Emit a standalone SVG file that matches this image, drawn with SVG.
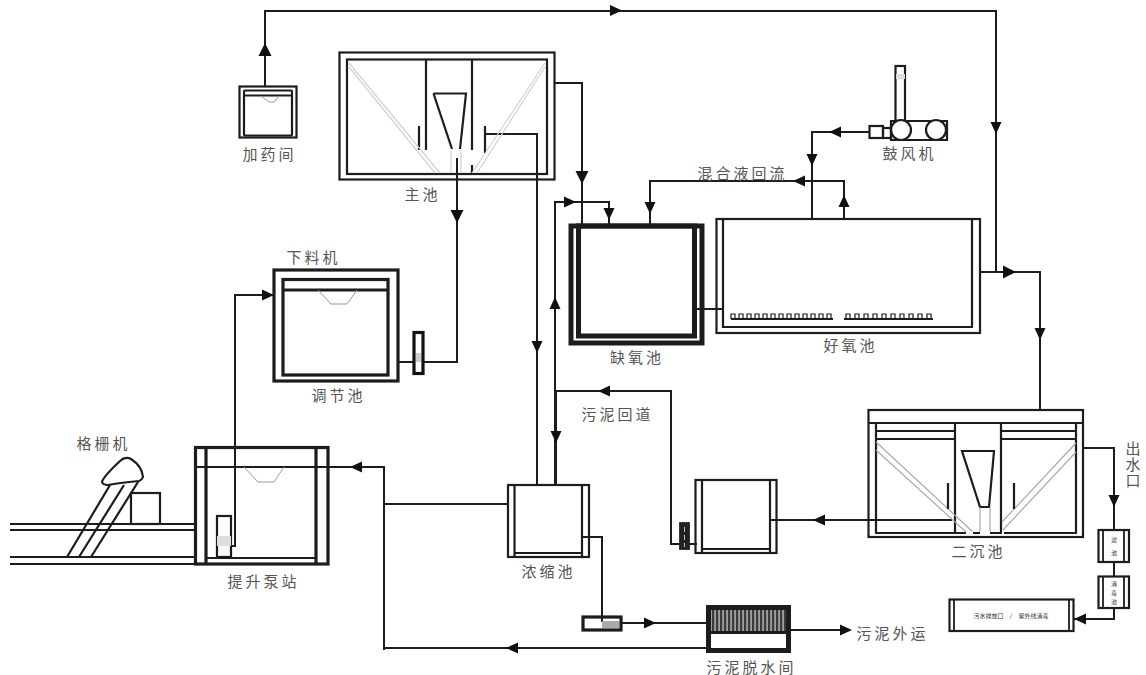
<svg xmlns="http://www.w3.org/2000/svg" width="1146" height="675" viewBox="0 0 1146 675">
<style>
.t{font-family:"Noto Sans CJK SC","Noto Sans",sans-serif;font-size:15px;fill:#555;text-anchor:middle;letter-spacing:3px;dominant-baseline:central}
.s{font-size:6px;letter-spacing:0;fill:#333}
path,rect,circle{fill:none;stroke:#1c1c1c;stroke-width:1.8}
.w2{stroke-width:2.2}.w3{stroke-width:3.2}.w5{stroke-width:5}
.g{stroke:#d2d2d2;stroke-width:1.2}
.lg{stroke:#999;stroke-width:1}
#connectors path{stroke-width:2}
#connectors .a{stroke:none;stroke-width:0;marker-end:url(#ah)}
#connectors .b{stroke:none;stroke-width:0;marker-end:url(#ahb)}
</style>
<defs>
<marker id="ah" markerUnits="userSpaceOnUse" markerWidth="12" markerHeight="12" viewBox="0 0 12 12" refX="6" refY="6" orient="auto"><path d="M0 0.500L12 6L0 11.500Z" style="fill:#111;stroke:none"/></marker>
<marker id="ahb" markerUnits="userSpaceOnUse" markerWidth="14" markerHeight="14" viewBox="0 0 14 14" refX="7" refY="7" orient="auto"><path d="M0 0.500L13 7L0 13.500Z" style="fill:#111;stroke:none"/></marker>
<pattern id="hatch" patternUnits="userSpaceOnUse" width="4" height="10"><rect width="4" height="10" style="fill:#777;stroke:none"/><path d="M1 0V10" style="stroke:#222;stroke-width:1.4"/><path d="M3.200 0V10" style="stroke:#ccc;stroke-width:.7"/></pattern>
</defs>
<rect width="1146" height="675" style="fill:#fff;stroke:none"/>

<g id="connectors">
<path d="M265 86V11H996V272"/>
<path d="M981 272H1040V410"/>
<path d="M555 83H582V224"/>
<path d="M485 134H537V485"/>
<path d="M457 158V362H398"/>
<path d="M555 485V202H609V224"/>
<path d="M556 485V391H671V544H697"/>
<path d="M231 546H235V295H273"/>
<path d="M195 467H384V650"/>
<path d="M384 504H508"/>
<path d="M384 648H706"/>
<path d="M582 537H602V622"/>
<path d="M622 623H706"/>
<path d="M791 630H845"/>
<path d="M770 520H952"/>
<path d="M1083 448H1114V530"/>
<path d="M1114 562V576"/>
<path d="M1114 608V619H1074"/>
<path d="M869 132H812V219"/>
<path d="M844 219V181H650V224"/>
<path d="M697 309H723"/>
<path class="b" d="M265 55V49"/>
<path class="a" d="M610 10.500H616"/>
<path class="a" d="M996 122V128"/>
<path class="b" d="M1004 272H1010"/>
<path class="a" d="M1040 328V334"/>
<path class="b" d="M582 172V178"/>
<path class="b" d="M457 211V217"/>
<path class="a" d="M564 202H570"/>
<path class="a" d="M609 208V214"/>
<path class="a" d="M555 309V303"/>
<path class="a" d="M537 341V347"/>
<path class="a" d="M556 431V437"/>
<path class="a" d="M610 391H604"/>
<path class="a" d="M650 202V208"/>
<path class="a" d="M805 181H799"/>
<path class="a" d="M844 207V201"/>
<path class="a" d="M812 154V160"/>
<path class="a" d="M841 132H835"/>
<path class="a" d="M262 295H268"/>
<path class="a" d="M362 467H356"/>
<path class="a" d="M518 648H512"/>
<path class="a" d="M644 623H650"/>
<path class="a" d="M825 520H819"/>
<path class="a" d="M840 630H846"/>
<path class="a" d="M1114 495V501"/>
<path class="a" d="M1086 619H1080"/>
</g>

<g id="dosing">
<rect x="239.500" y="86.500" width="57" height="51" class="w2"/>
<rect x="244" y="90.500" width="48" height="45" class="w2" rx="1"/>
<path d="M244 95.500H292" class="w2"/>
<path d="M261 96L269 102H274L279 96" class="lg"/>
<text class="t" x="269.500" y="153.500">加药间</text>
</g>

<g id="main-tank">
<rect x="339.500" y="52.500" width="215" height="127" class="w2"/>
<rect x="347" y="59.500" width="200" height="114.500" class="w2"/>
<path d="M426 60V150M472 60V150M472 165V174" class="w2"/>
<path d="M433.500 93.500H466L460 149M433.500 93.500L452 149" class="w2"/>
<path d="M419 126V150M485 126V153" class="w2"/>
<path d="M349 63L440 173M349 67L435 173M545 63L472 173M545 67L477 173M451 150V172M461 150V172" class="g"/>
<text class="t" x="422.500" y="193">主池</text>
</g>

<g id="feeder-tank">
<rect x="274" y="270" width="124" height="111" class="w3"/>
<rect x="283" y="279.500" width="105" height="95.500" class="w3"/>
<path d="M283 290H388" class="w3"/>
<path d="M318 290L331 304H347L357 290" class="lg"/>
<rect x="414" y="332.500" width="9" height="41" class="w3" style="fill:#fff;stroke:#111"/>
<path d="M416 353H421V362H416Z" style="fill:#ccc;stroke:none"/>
<text class="t" x="313.500" y="256">下料机</text>
<text class="t" x="338.500" y="394">调节池</text>
</g>

<g id="screen">
<path d="M10 524H195M10 530H195M10 557H195M10 564H195" class="w2"/>
<rect x="131" y="493" width="29" height="31" class="w2"/>
<path d="M67 557L110 485M79 557L124 485M91 557L138 482" class="w2"/>
<path d="M102 482Q103 477 120 461Q125 456 131 459Q142 466 143 477Q142 480 139 481Q118 483 108 485Q103 485 102 482Z" class="w2" style="fill:#fff"/>
<text class="t" x="103.500" y="442">格栅机</text>
</g>

<g id="lift-station">
<rect x="195.500" y="447.500" width="132.500" height="116.500" class="w3"/>
<path d="M206 447V564M316 447V564" class="w3"/>
<path d="M206 558H316" class="w2"/>
<path d="M244 467L258 482H274L284 467" class="lg"/>
<rect x="217" y="516" width="14" height="41" class="w2"/>
<path d="M217 536H231V546H217Z" style="fill:#ddd;stroke:none"/>
<text class="t" x="263.500" y="580">提升泵站</text>
</g>

<g id="anoxic-tank">
<rect x="571" y="226" width="131" height="117" class="w5"/>
<rect x="578.500" y="226" width="116" height="110" class="w5"/>
<text class="t" x="637" y="356">缺氧池</text>
</g>

<g id="aerobic-tank">
<rect x="716.500" y="219" width="263.500" height="114" class="w2"/>
<path d="M723 219V327H972V219" class="w2"/>
<path d="M731 319H833M844 319H933" class="w2"/>
<path d="M731 319V314H735V319M739 319V314H743V319M747 319V314H751V319M755 319V314H759V319M763 319V314H767V319M771 319V314H775V319M779 319V314H783V319M787 319V314H791V319M795 319V314H799V319M803 319V314H807V319M811 319V314H815V319M819 319V314H823V319M827 319V314H831V319M846 319V314H850V319M855 319V314H859V319M864 319V314H868V319M873 319V314H877V319M882 319V314H886V319M891 319V314H895V319M900 319V314H904V319M909 319V314H913V319M918 319V314H922V319M927 319V314H931V319" style="stroke-width:1.200"/>
<text class="t" x="850.500" y="344">好氧池</text>
</g>

<g id="blower">
<rect x="895.500" y="66" width="9.500" height="55" class="w2"/>
<path d="M896 74H905V79H896Z" style="fill:#ddd;stroke:none"/>
<path d="M891 140V121H947V140Z" class="w2"/>
<circle cx="901" cy="130" r="10" class="w2" style="fill:#fff"/>
<circle cx="936" cy="130" r="10" class="w2" style="fill:#fff"/>
<rect x="869.500" y="126" width="13.500" height="12" class="w2"/>
<rect x="883" y="128" width="8" height="10" class="w2"/>
<text class="t" x="909.500" y="152">鼓风机</text>
</g>

<g id="recycle-label"><text class="t" x="742.500" y="172">混合液回流</text></g>
<g id="sludge-return-label"><text class="t" x="617.500" y="413">污泥回道</text></g>

<g id="thickener">
<rect x="508" y="485" width="81" height="72" class="w2"/>
<path d="M514.500 485V557M582 485V557M514 553H582" class="w2"/>
<text class="t" x="548.500" y="570">浓缩池</text>
</g>

<g id="sludge-pump">
<rect x="583" y="617" width="38" height="13" class="w3"/>
<path d="M602 621H619V628H602Z" style="fill:#aaa;stroke:none"/>
</g>

<g id="sludge-tank">
<rect x="695.500" y="480" width="81" height="73" class="w2"/>
<path d="M702 480V553M770 480V553M702 549H770" class="w2"/>
<rect x="680" y="523" width="9" height="26" style="fill:#222;stroke:#222"/>
<path d="M684.500 527V547" style="stroke:#bbb;stroke-width:1;stroke-dasharray:5 3"/>
</g>

<g id="dewatering">
<rect x="708.500" y="607.500" width="80" height="43" class="w5"/>
<rect x="711" y="610" width="75" height="21" style="fill:url(#hatch);stroke:none"/>
<path d="M708 632.500H789" class="w3"/>
<text class="t" x="751.500" y="666">污泥脱水间</text>
<text class="t" x="892.500" y="632">污泥外运</text>
</g>

<g id="secondary-tank">
<rect x="868.500" y="410" width="214.500" height="127" class="w2"/>
<path d="M868 423H1083" class="w2"/>
<path d="M876 423V533H1076V423" class="w2"/>
<path d="M876 431H955M876 439H955M1001 431H1076M1001 439H1076M955 423V533M1001 423V533" class="w2"/>
<path d="M876 442L973 532M876 450L966 532M1076 443L1002 522M1076 452L1003 530" class="g" style="stroke:#aaa"/>
<path d="M962 451H994L989 507H980Z" class="w2"/>
<path d="M980 507V532M990 507V532" class="lg"/>
<path d="M966 533H973M980 533H990M1002 533H1004" style="stroke:#fff;stroke-width:3"/>
<path d="M948 483V509M1014 483V509" class="w2"/>
<text class="t" x="978.500" y="550">二沉池</text>
<text class="t" x="1133" y="465" style="writing-mode:vertical-rl;letter-spacing:1px;font-size:15px">出水口</text>
</g>

<g id="filter">
<rect x="1098.500" y="530" width="30.500" height="32" class="w2"/>
<path d="M1103 530V562M1124 530V562"/>
<text class="t s" x="1114" y="539">滤</text>
<text class="t s" x="1114" y="552">池</text>
</g>

<g id="disinfection">
<rect x="1098.500" y="576.500" width="30.500" height="31.500" class="w2"/>
<path d="M1103 576V608M1124 576V608"/>
<text class="t s" x="1114" y="583">消</text>
<text class="t s" x="1114" y="592">毒</text>
<text class="t s" x="1114" y="601">池</text>
</g>

<g id="outfall">
<rect x="949.500" y="599.500" width="124" height="31.500" class="w2"/>
<path d="M954 599V631M1069 599V631"/>
<text class="t s" x="1011" y="615" style="word-spacing:5px">污水排放口  /  紫外线消毒</text>
</g>
</svg>
